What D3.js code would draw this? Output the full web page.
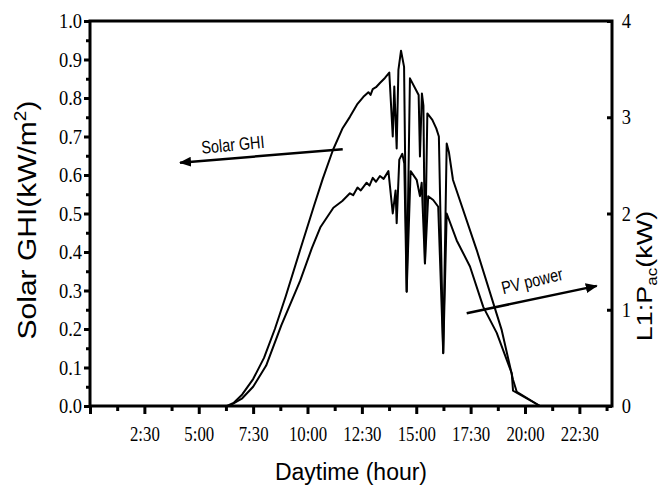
<!DOCTYPE html>
<html>
<head>
<meta charset="utf-8">
<script src="https://cdn.jsdelivr.net/npm/d3@7"></script>
<style>
  body { margin: 0; background: #fff; }
  svg { display: block; }
  .tick text { font-family: "Liberation Serif", "Times New Roman", serif; }
</style>
</head>
<body>
<div id="chart"></div>
<script>
// Solar GHI (kW/m2), left axis
const ghiHours = [6.0, 6.3, 6.6, 7.0, 7.5, 8.0, 8.5, 9.0, 9.66, 10.3, 10.7, 11.17, 11.6, 11.95, 12.3, 12.57, 12.8, 12.9, 13.0, 13.15, 13.33, 13.56, 13.76, 13.92, 13.99, 14.1, 14.18, 14.3, 14.44, 14.56, 14.71, 14.99, 15.11, 15.17, 15.26, 15.33, 15.4, 15.51, 15.74, 15.92, 16.04, 16.24, 16.4, 16.5, 16.69, 17.78, 18.93, 19.45, 19.62, 20.69, 21.0];
const ghiValues = [0, 0, 0.008, 0.03, 0.07, 0.125, 0.2, 0.285, 0.405, 0.52, 0.59, 0.665, 0.72, 0.751, 0.785, 0.803, 0.815, 0.808, 0.823, 0.828, 0.839, 0.852, 0.866, 0.70, 0.83, 0.669, 0.873, 0.923, 0.881, 0.297, 0.851, 0.821, 0.808, 0.648, 0.812, 0.78, 0.371, 0.76, 0.743, 0.721, 0.70, 0.137, 0.682, 0.66, 0.587, 0.405, 0.197, 0.068, 0.037, 0, 0];

// PV power (kW), right axis
const pvHours = [6.0, 6.4, 7.0, 7.5, 8.1, 8.8, 9.66, 10.2, 10.6, 11.19, 11.6, 11.95, 12.1, 12.3, 12.45, 12.72, 12.85, 13.0, 13.15, 13.33, 13.5, 13.72, 13.92, 14.05, 14.1, 14.22, 14.36, 14.45, 14.56, 14.74, 15.02, 15.17, 15.25, 15.4, 15.55, 15.78, 16.01, 16.24, 16.4, 16.86, 17.47, 18.08, 18.7, 19.39, 19.45, 20.69, 21.0];
const pvValues = [0, 0, 0.08, 0.2, 0.42, 0.84, 1.3, 1.64, 1.86, 2.06, 2.13, 2.21, 2.19, 2.27, 2.24, 2.32, 2.29, 2.37, 2.33, 2.39, 2.36, 2.44, 2.0, 2.24, 1.9, 2.56, 2.62, 2.52, 1.19, 2.44, 2.35, 2.18, 2.32, 1.48, 2.18, 2.14, 2.07, 0.55, 2.0, 1.72, 1.45, 1.03, 0.76, 0.34, 0.16, 0, 0];

// Axis ticks
const xTicks = [0, 2.5, 5, 7.5, 10, 12.5, 15, 17.5, 20, 22.5];
const xTickLabels = ["", "2:30", "5:00", "7:30", "10:00", "12:30", "15:00", "17:30", "20:00", "22:30"];
const xMinorTicks = [1.25, 3.75, 6.25, 8.75, 11.25, 13.75, 16.25, 18.75, 21.25, 23.75];
const yLeftTicks = [0, 0.1, 0.2, 0.3, 0.4, 0.5, 0.6, 0.7, 0.8, 0.9, 1.0];
const yLeftMinorTicks = [0.05, 0.15, 0.25, 0.35, 0.45, 0.55, 0.65, 0.75, 0.85, 0.95];
const yRightTicks = [0, 1, 2, 3, 4];

// Annotations: [hour, value on left scale]
const ghiArrow = [[11.62, 0.667], [4.14, 0.632]];
const pvArrow = [[17.32, 0.241], [23.3, 0.312]];

const width = 663, height = 485;
const margin = { left: 90, right: 51, top: 21, bottom: 79 };

const svg = d3.select("#chart").append("svg")
    .attr("width", width)
    .attr("height", height);

const x = d3.scaleLinear().domain([0, 24]).range([margin.left, width - margin.right]);
const yL = d3.scaleLinear().domain([0, 1]).range([height - margin.bottom, margin.top]);
const yR = d3.scaleLinear().domain([0, 4]).range([height - margin.bottom, margin.top]);

const sans = "'Liberation Sans', Arial, sans-serif";

// curves
const ghiLine = d3.line().x(d => x(d[0])).y(d => yL(d[1]));
const pvLine = d3.line().x(d => x(d[0])).y(d => yR(d[1]));

svg.append("path")
    .datum(d3.zip(ghiHours, ghiValues))
    .attr("fill", "none")
    .attr("stroke", "#000")
    .attr("stroke-width", 2)
    .attr("stroke-linejoin", "round")
    .attr("d", ghiLine);

svg.append("path")
    .datum(d3.zip(pvHours, pvValues))
    .attr("fill", "none")
    .attr("stroke", "#000")
    .attr("stroke-width", 2)
    .attr("stroke-linejoin", "round")
    .attr("d", pvLine);

// frame
svg.append("rect")
    .attr("x", x(0))
    .attr("y", yL(1))
    .attr("width", x(24) - x(0))
    .attr("height", yL(0) - yL(1))
    .attr("fill", "none")
    .attr("stroke", "#000")
    .attr("stroke-width", 3);

// bottom axis
const xAxis = svg.append("g")
    .attr("transform", `translate(0,${yL(0)})`)
    .call(d3.axisBottom(x).tickValues(xTicks).tickSize(8).tickPadding(12)
        .tickFormat((d, i) => xTickLabels[i]));
xAxis.select(".domain").remove();
xAxis.selectAll("line").attr("stroke-width", 3);
xAxis.selectAll("text")
    .attr("font-size", 21)
    .attr("transform", "scale(0.8,1)");

const xMinor = svg.append("g")
    .attr("transform", `translate(0,${yL(0)})`)
    .call(d3.axisBottom(x).tickValues(xMinorTicks).tickSize(5).tickFormat(""));
xMinor.select(".domain").remove();
xMinor.selectAll("line").attr("stroke-width", 3);

// left axis
const yAxisL = svg.append("g")
    .attr("transform", `translate(${x(0)},0)`)
    .call(d3.axisLeft(yL).tickValues(yLeftTicks).tickSize(6).tickPadding(3)
        .tickFormat(d3.format(".1f")));
yAxisL.select(".domain").remove();
yAxisL.selectAll("line").attr("stroke-width", 3);
yAxisL.selectAll("text")
    .attr("font-size", 21)
    .attr("transform", "scale(0.88,1)");

const yMinorL = svg.append("g")
    .attr("transform", `translate(${x(0)},0)`)
    .call(d3.axisLeft(yL).tickValues(yLeftMinorTicks).tickSize(4).tickFormat(""));
yMinorL.select(".domain").remove();
yMinorL.selectAll("line").attr("stroke-width", 3);

// right axis, ticks inward
const yAxisR = svg.append("g")
    .attr("transform", `translate(${x(24)},0)`)
    .call(d3.axisRight(yR).tickValues(yRightTicks).tickSizeInner(-5).tickSizeOuter(0).tickPadding(11)
        .tickFormat(d3.format("d")));
yAxisR.select(".domain").remove();
yAxisR.selectAll("line").attr("stroke-width", 3);
yAxisR.selectAll("text")
    .attr("font-size", 21)
    .attr("transform", "scale(0.88,1)");

// axis titles
svg.append("text")
    .attr("x", (x(0) + x(24)) / 2)
    .attr("y", 480)
    .attr("text-anchor", "middle")
    .attr("font-family", sans)
    .attr("font-size", 23)
    .text("Daytime (hour)");

const leftTitle = svg.append("text")
    .attr("transform", "translate(36,220) rotate(-90) scale(1,0.85)")
    .attr("text-anchor", "middle")
    .attr("font-family", sans)
    .attr("font-size", 30);
leftTitle.append("tspan").text("Solar GHI(kW/m");
leftTitle.append("tspan").attr("font-size", 19).attr("dy", -12).text("2");
leftTitle.append("tspan").attr("dy", 12).text(")");

const rightTitle = svg.append("text")
    .attr("transform", "translate(652,276) rotate(-90) scale(1,0.85)")
    .attr("text-anchor", "middle")
    .attr("font-family", sans)
    .attr("font-size", 27);
rightTitle.append("tspan").text("L1:P");
rightTitle.append("tspan").attr("font-size", 17).attr("dy", 6).text("ac");
rightTitle.append("tspan").attr("dy", -6).text("(kW)");

// annotation arrows
svg.append("defs").append("marker")
    .attr("id", "head")
    .attr("viewBox", "0 0 12 10")
    .attr("refX", 11)
    .attr("refY", 5)
    .attr("markerWidth", 12)
    .attr("markerHeight", 10)
    .attr("markerUnits", "userSpaceOnUse")
    .attr("orient", "auto")
    .append("path")
    .attr("d", "M0,0 L12,5 L0,10 Z")
    .attr("fill", "#000");

[ghiArrow, pvArrow].forEach(a => {
    svg.append("line")
        .attr("x1", x(a[0][0])).attr("y1", yL(a[0][1]))
        .attr("x2", x(a[1][0])).attr("y2", yL(a[1][1]))
        .attr("stroke", "#000")
        .attr("stroke-width", 2.5)
        .attr("marker-end", "url(#head)");
});

svg.append("text")
    .attr("transform", `translate(${x(5.15)},${yL(0.655)}) rotate(-5.5) scale(0.8,1)`)
    .attr("font-family", sans)
    .attr("font-size", 18)
    .text("Solar GHI");

svg.append("text")
    .attr("transform", `translate(${x(19.0)},${yL(0.29)}) rotate(-13.7) scale(0.8,1)`)
    .attr("font-family", sans)
    .attr("font-size", 18)
    .text("PV power");
</script>
</body>
</html>
